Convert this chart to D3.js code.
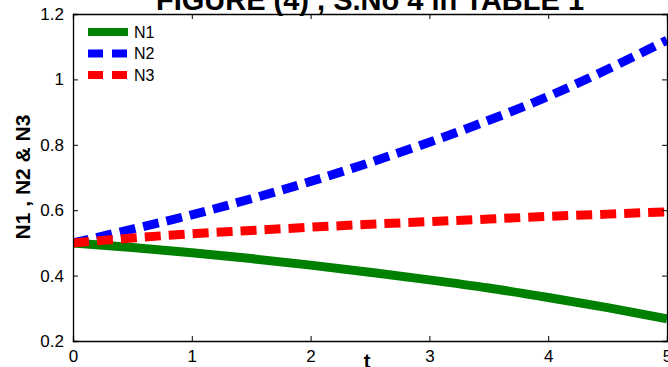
<!DOCTYPE html>
<html>
<head>
<meta charset="utf-8">
<script src="https://cdn.jsdelivr.net/npm/d3@7"></script>
<style>
  html, body { margin: 0; padding: 0; background: #fff; }
  svg { display: block; font-family: "Liberation Sans", Arial, sans-serif; }
</style>
</head>
<body>
<svg id="chart" width="668" height="367"></svg>
<script>
// Time samples and solution values for the three populations
const tValues = [0, 0.5, 1, 1.5, 2, 2.5, 3, 3.5, 4, 4.5, 5];
const n1Values = [0.5, 0.486, 0.47, 0.452, 0.432, 0.41, 0.387, 0.362, 0.333, 0.302, 0.268];
const n2Values = [0.5, 0.542, 0.586, 0.635, 0.688, 0.746, 0.808, 0.875, 0.948, 1.031, 1.12];
const n3Values = [0.5, 0.515, 0.528, 0.538, 0.548, 0.557, 0.565, 0.573, 0.581, 0.588, 0.595];

const seriesNames = ["N1", "N2", "N3"];
const xTicks = [0, 1, 2, 3, 4, 5];
const yTicks = [0.2, 0.4, 0.6, 0.8, 1, 1.2];

const titleText = "FIGURE (4) , S.No 4 in TABLE 1";
const xLabelText = "t";
const yLabelText = "N1 , N2 & N3";

const svg = d3.select("#chart");
const plot = { left: 73, right: 667, top: 14, bottom: 341 };

const x = d3.scaleLinear().domain([0, 5]).range([plot.left, plot.right]);
const y = d3.scaleLinear().domain([0.2, 1.2]).range([plot.bottom, plot.top]);

const series = [
  { name: seriesNames[0], values: n1Values, color: "#008000", dash: null },
  { name: seriesNames[1], values: n2Values, color: "#0000ff", dash: "16,8" },
  { name: seriesNames[2], values: n3Values, color: "#ff0000", dash: "16,8" }
];

svg.append("defs").append("clipPath").attr("id", "plotClip")
  .append("rect")
  .attr("x", plot.left).attr("y", plot.top)
  .attr("width", plot.right - plot.left).attr("height", plot.bottom - plot.top);

// Curves
const line = d3.line()
  .x((d, i) => x(tValues[i]))
  .y(d => y(d))
  .curve(d3.curveMonotoneX);

const curves = svg.append("g").attr("clip-path", "url(#plotClip)");
series.forEach(s => {
  curves.append("path")
    .datum(s.values)
    .attr("d", line)
    .attr("fill", "none")
    .attr("stroke", s.color)
    .attr("stroke-width", 9)
    .attr("stroke-linecap", "butt")
    .attr("stroke-linejoin", "round")
    .attr("stroke-dasharray", s.dash);
});

// Axes: box with inward ticks on all four sides
const tickLen = 5;
const axisFont = 17;

const bottomAxis = d3.axisBottom(x).tickValues(xTicks).tickSize(-tickLen).tickPadding(9)
  .tickFormat(d => String(d));
const topAxis = d3.axisTop(x).tickValues(xTicks).tickSize(-tickLen).tickFormat("");
const leftAxis = d3.axisLeft(y).tickValues(yTicks).tickSize(-tickLen).tickPadding(9)
  .tickFormat(d => String(d));
const rightAxis = d3.axisRight(y).tickValues(yTicks).tickSize(-tickLen).tickFormat("");

function styleAxis(g) {
  g.select(".domain").attr("stroke", "#000").attr("stroke-width", 1.3);
  g.selectAll(".tick line").attr("stroke", "#000").attr("stroke-width", 1);
  g.selectAll(".tick text")
    .attr("fill", "#000")
    .style("font-size", axisFont + "px")
    .style("font-family", "'Liberation Sans', Arial, sans-serif");
}

svg.append("g").attr("transform", `translate(0,${plot.bottom})`).call(bottomAxis).call(styleAxis);
svg.append("g").attr("transform", `translate(0,${plot.top})`).call(topAxis).call(styleAxis);
svg.append("g").attr("transform", `translate(${plot.left},0)`).call(leftAxis).call(styleAxis);
svg.append("g").attr("transform", `translate(${plot.right},0)`).call(rightAxis).call(styleAxis);

// Title (sits partly above the top edge of the page)
svg.append("text")
  .attr("x", (plot.left + plot.right) / 2)
  .attr("y", 10)
  .attr("text-anchor", "middle")
  .style("font-size", "29px")
  .style("font-weight", "bold")
  .text(titleText);

// Axis labels
svg.append("text")
  .attr("x", 367)
  .attr("y", 368)
  .attr("text-anchor", "middle")
  .style("font-size", "20px")
  .style("font-weight", "bold")
  .text(xLabelText);

svg.append("text")
  .attr("transform", "translate(30,177) rotate(-90)")
  .attr("text-anchor", "middle")
  .style("font-size", "21px")
  .style("font-weight", "bold")
  .text(yLabelText);

// Legend
const legend = svg.append("g");
series.forEach((s, i) => {
  const ly = 32 + i * 21.5;
  legend.append("line")
    .attr("x1", 88).attr("x2", 128)
    .attr("y1", ly).attr("y2", ly)
    .attr("stroke", s.color)
    .attr("stroke-width", 8)
    .attr("stroke-dasharray", s.dash ? "15,9" : null);
  legend.append("text")
    .attr("x", 134)
    .attr("y", ly)
    .attr("dy", "0.36em")
    .style("font-size", "16px")
    .text(s.name);
});
</script>
</body>
</html>
